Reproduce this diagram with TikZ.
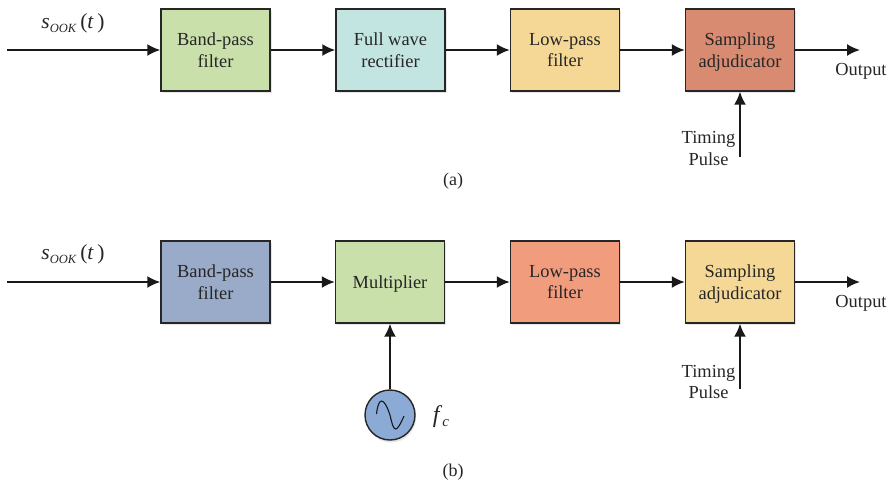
\documentclass[tikz,border=0pt]{standalone}
\usepackage{fontspec}
\setmainfont{Liberation Serif}
\usetikzlibrary{arrows.meta,shadows}
\definecolor{bandgreen}{RGB}{201,224,170}
\definecolor{rectcyan}{RGB}{195,229,226}
\definecolor{lowyellow}{RGB}{246,216,150}
\definecolor{samplered}{RGB}{217,139,113}
\definecolor{bandblue}{RGB}{154,171,201}
\definecolor{loworange}{RGB}{242,156,126}
\definecolor{oscblue}{RGB}{140,170,214}
\newcommand{\signallabel}{\textit{s}\raisebox{-4pt}{\fontsize{12.5}{13}\selectfont\textit{OOK}}\,(\textit{t}\,)}

\begin{document}
\begin{tikzpicture}[
  x=1pt, y=-1pt,
  box/.style={draw=black!85, line width=1.4pt, align=center,
              minimum width=109pt, minimum height=82pt, inner sep=0pt,
              font=\fontsize{18.4}{21.5}\selectfont, text=black!85, text depth=-1.5pt,
              drop shadow={shadow xshift=1.5pt, shadow yshift=-2pt, opacity=.2}},
  osc/.style={circle, draw=black!85, line width=1.4pt, fill=oscblue,
              minimum size=50pt, inner sep=0pt,
              drop shadow={shadow xshift=1pt, shadow yshift=-2.5pt, opacity=.2}},
  arrow/.style={-{Latex[length=13pt,width=12pt]}, line width=1.9pt, draw=black!90},
  label/.style={font=\fontsize{18.4}{21.5}\selectfont, text=black!85, align=center, inner sep=0pt},
  sub/.style={font=\fontsize{18}{20}\selectfont, text=black!85, inner sep=0pt}
]
\useasboundingbox (0,0) rectangle (892,482);
% (a)
\coordinate (ina) at (7,50);
\node[label, font=\fontsize{21.5}{22}\selectfont] (siga) at (73,23) {\signallabel};
\node[box, fill=bandgreen] (banda) at (215.5,50) {Band-pass\\filter};
\node[box, fill=rectcyan] (recta) at (390.5,50) {Full wave\\rectifier};
\node[box, fill=lowyellow] (lowa) at (565,50) {Low-pass\\filter};
\node[box, fill=samplered] (sampa) at (740,50) {Sampling\\adjudicator};
\coordinate (outa) at (860,50);
\node[label] (outputa) at (861,71) {Output};
\coordinate (tima) at (740,157);
\node[label] (timinga) at (708.5,148.5) {Timing\\Pulse};
\node[sub] (capa) at (453,181) {(a)};

\draw[arrow] (ina) -- (banda);
\draw[arrow] (banda) -- (recta);
\draw[arrow] (recta) -- (lowa);
\draw[arrow] (lowa) -- (sampa);
\draw[arrow] (sampa) -- (outa);
\draw[arrow] (tima) -- (sampa);

% (b)
\coordinate (inb) at (7,282);
\node[label, font=\fontsize{21.5}{22}\selectfont] (sigb) at (73,254) {\signallabel};
\node[box, fill=bandblue] (bandb) at (215.5,282) {Band-pass\\filter};
\node[box, fill=bandgreen] (mult) at (390,282) {Multiplier};
\node[box, fill=loworange] (lowb) at (565,282) {Low-pass\\filter};
\node[box, fill=lowyellow] (sampb) at (740,282) {Sampling\\adjudicator};
\coordinate (outb) at (860,282);
\node[label] (outputb) at (861,303) {Output};
\coordinate (timb) at (740,389);
\node[label] (timingb) at (708.5,382) {Timing\\Pulse};
\node[osc] (carrier) at (390,415) {};
\node[label, font=\fontsize{24}{24}\selectfont] (fc) at (441,417)
  {\textit{f}\raisebox{-4pt}{\fontsize{15}{15}\selectfont\textit{c}}};
\node[sub] (capb) at (453,472) {(b)};

\draw[arrow] (inb) -- (bandb);
\draw[arrow] (bandb) -- (mult);
\draw[arrow] (mult) -- (lowb);
\draw[arrow] (lowb) -- (sampb);
\draw[arrow] (sampb) -- (outb);
\draw[arrow] (timb) -- (sampb);
\draw[arrow] (carrier) -- (mult);
\draw[line width=1.1pt, draw=black!90] (carrier.center) ++(-13.5,-1)
  .. controls ++(2,-18) and ++(-6,-18) .. ++(13.5,1)
  .. controls ++(4,18) and ++(-8,18) .. ++(14,1);
\end{tikzpicture}
\end{document}
